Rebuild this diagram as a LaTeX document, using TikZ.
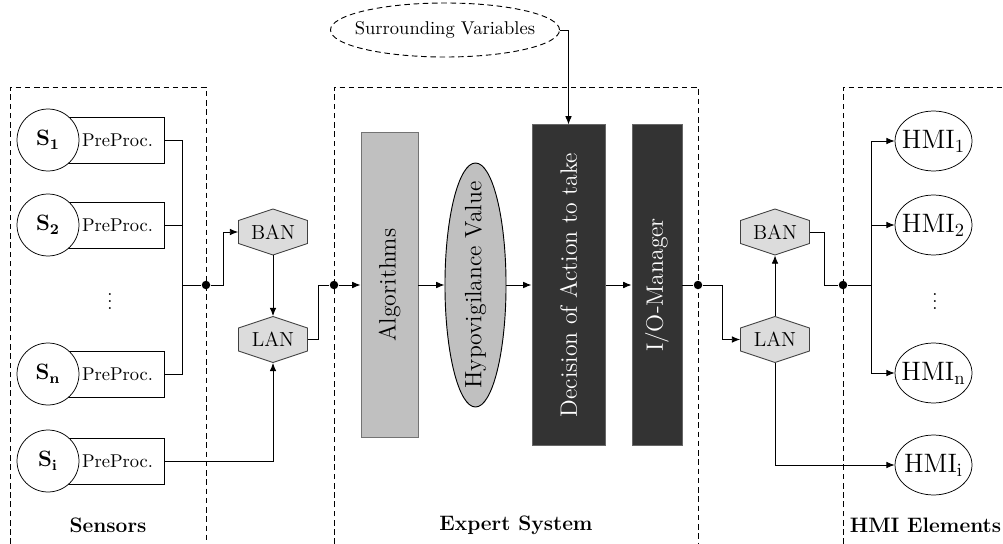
\documentclass[tikz,border=0pt]{standalone}
\usepackage{tikz}
\usetikzlibrary{arrows.meta,shapes.geometric,calc}
\definecolor{blocklight}{HTML}{C0C0C0}
\definecolor{blockdark}{HTML}{333333}
\definecolor{netfill}{HTML}{DCDCDC}

% hexagonal network node: outline drawn first, labelled node on top
\newcommand\hexnode[4]{%
  \filldraw[hexshape] (#2,#3) ++(-34.5,-11.5) -- ++(0,23) -- ++(34.5,11.5)
    -- ++(34.5,-11.5) -- ++(0,-23) -- ++(-34.5,-11.5) -- cycle;
  \node[hexlabel] (#1) at (#2,#3) {#4};}

\begin{document}
\begin{tikzpicture}[x=0.5405pt,y=-0.5405pt,
  link/.style={draw, line width=0.5pt},
  conn/.style={draw, line width=0.5pt, -{Latex[length=4.5pt,width=3.6pt]}},
  region/.style={draw, line width=0.5pt, dash pattern=on 3pt off 2pt},
  sensor/.style={circle, draw, fill=white, minimum size=33.5pt, inner sep=0pt,
    font=\fontsize{12}{14}\selectfont},
  prep/.style={rectangle, draw, minimum height=24.9pt, text width=50.9pt,
    inner xsep=5.9pt, inner ysep=0pt, align=right},
  hexshape/.style={fill=netfill, draw=black!75, line width=0.5pt},
  hexlabel/.style={rectangle, minimum width=37.3pt, minimum height=24.9pt,
    inner sep=0pt, font=\fontsize{11}{13}\selectfont},
  hmi/.style={ellipse, draw, minimum width=41.6pt, minimum height=32.4pt,
    inner sep=0pt, font=\fontsize{14.4}{17}\selectfont},
  junction/.style={circle, fill, inner sep=0pt, minimum size=4.6pt},
  bigtext/.style={font=\fontsize{12.8}{15}\selectfont, inner sep=0pt},
  lightblock/.style={bigtext, rectangle, rotate=90, fill=blocklight, draw=black!55,
    line width=0.5pt},
  darkblock/.style={bigtext, rectangle, rotate=90, fill=blockdark, draw=black!60,
    line width=0.5pt, text=white},
  regionlabel/.style={font=\fontsize{11.3}{13}\selectfont\bfseries},
]
\useasboundingbox (0,0) rectangle (1003,544);

% dashed regions
\draw[region] (10,544) -- (10,87) -- (206,87) -- (206,544);
\draw[region] (334,544) -- (334,87) -- (698,87) -- (698,544);
\draw[region] (843,544) -- (843,87) -- (1003,87);

% sensors with their preprocessing stages
\node[prep] (pp1) at (106,140) {PreProc.};
\node[prep] (pp2) at (106,225) {PreProc.};
\node[prep] (ppn) at (106,374) {PreProc.};
\node[prep] (ppi) at (106,461) {PreProc.};
\node[sensor] (s1) at (48,140) {$\mathbf{S_1}$};
\node[sensor] (s2) at (48,225) {$\mathbf{S_2}$};
\node[sensor] (sn) at (48,374) {$\mathbf{S_n}$};
\node[sensor] (si) at (48,461) {$\mathbf{S_i}$};
\node (sdots) at (110,296) {$\vdots$};

% networks
\hexnode{banl}{273}{232}{BAN}
\hexnode{lanl}{273}{339.5}{LAN}
\hexnode{banr}{775}{232}{BAN}
\hexnode{lanr}{775}{339.5}{LAN}

% expert system
\node[lightblock, minimum width=164.9pt, minimum height=30.8pt] (alg) at (389.5,285) {Algorithms};
\node[ellipse, rotate=90, fill=blocklight, draw, line width=0.5pt, inner sep=0pt,
  minimum width=131.9pt, minimum height=33pt, bigtext] (hypo) at (475.5,285)
  {\makebox[0pt]{Hypovigilance Value}};
\node[darkblock, minimum width=173pt, minimum height=39.5pt] (dec) at (568.5,285) {Decision of Action to take};
\node[darkblock, minimum width=173pt, minimum height=27pt] (io) at (657,285) {I/O-Manager};
\node[ellipse, draw, dash pattern=on 3pt off 2pt, line width=0.5pt, inner sep=0pt,
  minimum width=123.8pt, minimum height=29.2pt] (sv) at (445,30)
  {\makebox[60pt]{Surrounding Variables}};

% HMI elements
\node[hmi] (hmi1) at (933.5,141) {\makebox[24pt]{HMI$_1$}};
\node[hmi] (hmi2) at (933.5,225) {\makebox[24pt]{HMI$_2$}};
\node[hmi] (hmin) at (933.5,373) {\makebox[24pt]{HMI$_\mathrm{n}$}};
\node[hmi] (hmii) at (933.5,465) {\makebox[24pt]{HMI$_\mathrm{i}$}};
\node (hdots) at (935,296) {$\vdots$};

% junctions
\coordinate (sbus) at (182,285);
\node[junction] (j1) at (206,285) {};
\node[junction] (j2) at (334,285) {};
\node[junction] (j3) at (698,285) {};
\node[junction] (j4) at (843,285) {};
\coordinate (hbus) at (871,285);

% sensor side wiring
\draw[link] (pp1) -| (sbus);
\draw[link] (pp2) -| (sbus);
\draw[link] (ppn) -| (sbus);
\draw[link] (sbus) -- (j1);
\draw[conn] (j1) -- ++(17,0) |- (banl);
\draw[conn] (banl) -- (lanl);
\draw[conn] (ppi) -| (lanl);
\draw[link] (lanl.east) -- ++(11,0) |- (j2);

% processing chain
\draw[conn] (j2) -- (alg);
\draw[conn] (alg) -- (hypo);
\draw[conn] (hypo) -- (dec);
\draw[conn] (dec) -- (io);
\draw[link] (io) -- (j3);
\draw[conn] (sv.east) -| (dec);

% HMI side wiring
\draw[conn] (j3) -- ++(24,0) |- (lanr);
\draw[conn] (lanr) -- (banr);
\draw[link] (banr.east) -- ++(15,0) |- (j4);
\draw[link] (j4) -- (hbus);
\draw[conn] (hbus) |- (hmi1);
\draw[conn] (hbus) |- (hmi2);
\draw[conn] (hbus) |- (hmin);
\draw[conn] (lanr) |- (hmii);

% region titles
\node[regionlabel] (tsens) at (108,525) {Sensors};
\node[regionlabel] (texp) at (516,525) {Expert System};
\node[regionlabel] (thmi) at (925.5,525) {HMI Elements};
\end{tikzpicture}
\end{document}
